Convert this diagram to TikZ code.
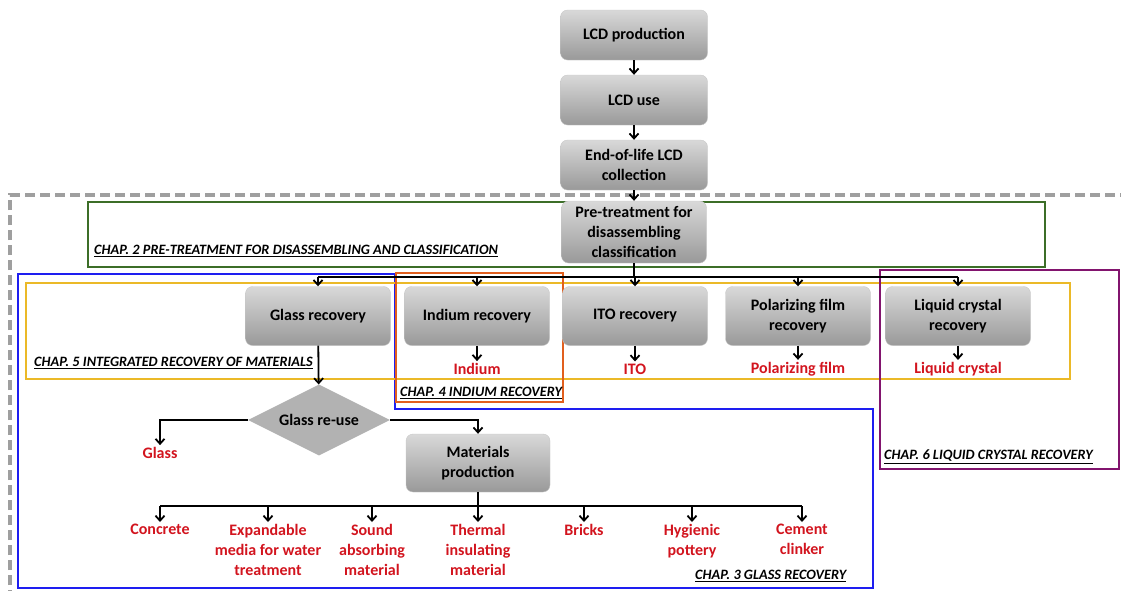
\documentclass[tikz,border=0pt]{standalone}
\usepackage{fontspec}
\setmainfont{Carlito}
\usetikzlibrary{arrows.meta,shapes.geometric}
\definecolor{outred}{RGB}{210,20,30}
\definecolor{chapgreen}{RGB}{60,110,40}
\definecolor{chapblue}{RGB}{30,30,240}
\definecolor{chapyellow}{RGB}{235,185,40}
\definecolor{chaporange}{RGB}{225,95,30}
\definecolor{chappurple}{RGB}{130,20,110}

\tikzset{
  stepbox/.style={draw=black!22, rounded corners=7pt, top color=black!15, bottom color=black!40,
    font=\bfseries\fontsize{16}{20}\selectfont, align=center,
    minimum width=145pt, minimum height=59pt, inner sep=2pt},
  product/.style={text=outred, font=\bfseries\fontsize{16}{20}\selectfont, align=center, inner sep=2pt},
  chaplabel/.style={font=\bfseries\itshape\fontsize{14.3}{17}\selectfont, inner sep=0pt, anchor=west},
  link/.style={line width=1.8pt},
  arr/.style={line width=1.8pt, -{Straight Barb[length=5pt,width=9pt]}},
  frame/.style={line width=2.2pt}
}

\begin{document}
\begin{tikzpicture}[x=1pt, y=-1pt]
    \useasboundingbox (0,0) rectangle (1121,590);

    % chapter frames
    \draw[gray!75, line width=3.2pt, dash pattern=on 10pt off 5pt] (10,600) -- (10,195) -- (1130,195);
    \draw[frame, chapgreen] (88,202) rectangle (1045,267);
    \draw[frame, chapblue] (18,274) -- (395,274) -- (395,409) -- (873,409) -- (873,588) -- (18,588) -- cycle;
    \draw[frame, chapyellow] (26,283) rectangle (1070,379);
    \draw[frame, chaporange] (396,273) rectangle (563,402);
    \draw[frame, chappurple] (880,270) rectangle (1119,469);

    \node[chaplabel] (chtwo) at (94,251) {\underline{CHAP. 2 PRE-TREATMENT FOR DISASSEMBLING AND CLASSIFICATION}};
    \node[chaplabel] (chfive) at (34,363) {\underline{CHAP. 5 INTEGRATED RECOVERY OF MATERIALS}};
    \node[chaplabel] (chfour) at (400,393) {\underline{CHAP. 4 INDIUM RECOVERY}};
    \node[chaplabel] (chsix) at (884,457) {\underline{CHAP. 6 LIQUID CRYSTAL RECOVERY}};
    \node[chaplabel] (chthree) at (695,576) {\underline{CHAP. 3 GLASS RECOVERY}};

    % LCD life cycle
    \node[stepbox, minimum width=147pt, minimum height=50pt] (prod) at (634,35) {LCD production};
    \node[stepbox, minimum width=147pt, minimum height=50pt] (use) at (634,100) {LCD use};
    \node[stepbox, minimum width=147pt, minimum height=50pt] (eol) at (634,165) {End-of-life LCD\\collection};
    \node[stepbox, minimum height=62pt] (pre) at (634,232) {Pre-treatment for\\disassembling\\classification};

    \draw[arr] (prod) -- (use);
    \draw[arr] (use) -- (eol);
    \draw[arr] (eol) -- (pre);

    % recovery processes
    \node[stepbox] (glassrec) at (318,316) {Glass recovery};
    \node[stepbox] (indrec) at (477,316) {Indium recovery};
    \node[stepbox] (itorec) at (635,316) {ITO recovery};
    \node[stepbox] (polrec) at (798,316) {Polarizing film\\recovery};
    \node[stepbox] (lcrec) at (958,316) {Liquid crystal\\recovery};

    \coordinate (bus) at (634,277);
    \draw[link] (pre.south) -- (bus);
    \draw[link] (glassrec.north |- bus) -- (lcrec.north |- bus);
    \foreach \n in {glassrec,indrec,itorec,polrec,lcrec}
        \draw[arr] (\n.north |- bus) -- (\n.north);

    % recovered materials
    \node[product] (indium) at (477,369) {Indium};
    \node[product] (ito) at (635,369) {ITO};
    \node[product] (polfilm) at (798,369) {Polarizing film};
    \node[product] (lcprod) at (958,369) {Liquid crystal};

    \draw[arr] (indrec) -- (indium);
    \draw[arr] (itorec) -- (ito);
    \draw[arr] (polrec) -- (polfilm);
    \draw[arr] (lcrec) -- (lcprod);

    % glass re-use
    \node[diamond, fill=black!30, inner sep=0pt, minimum width=142pt, minimum height=71pt, aspect=2,
        font=\bfseries\fontsize{16}{20}\selectfont] (reuse) at (319,420) {Glass re-use};
    \node[product] (glass) at (160,453) {Glass};
    \node[stepbox, minimum width=144pt, minimum height=58pt] (matprod) at (478,463) {Materials\\production};

    \draw[arr] (glassrec) -- (reuse);
    \draw[arr] (reuse.west) -| (glass.north);
    \draw[arr] (reuse.east) -| (matprod.north);

    % glass products
    \node[product, anchor=north] (concrete) at (160,522) {Concrete};
    \node[product, anchor=north] (media) at (268,522) {Expandable\\media for water\\treatment};
    \node[product, anchor=north] (sound) at (372,522) {Sound\\absorbing\\material};
    \node[product, anchor=north] (thermal) at (478,522) {Thermal\\insulating\\material};
    \node[product, anchor=north] (bricks) at (584,522) {Bricks};
    \node[product, anchor=north] (pottery) at (692,522) {Hygienic\\pottery};
    \node[product, anchor=north] (cement) at (802,522) {Cement\\clinker};

    \coordinate (busb) at (478,506);
    \draw[link] (matprod.south) -- (busb);
    \draw[line width=2.2pt] (concrete.north |- busb) -- (cement.north |- busb);
    \foreach \n in {concrete,media,sound,thermal,bricks,pottery,cement}
        \draw[arr] (\n.north |- busb) -- (\n.north);
\end{tikzpicture}
\end{document}
